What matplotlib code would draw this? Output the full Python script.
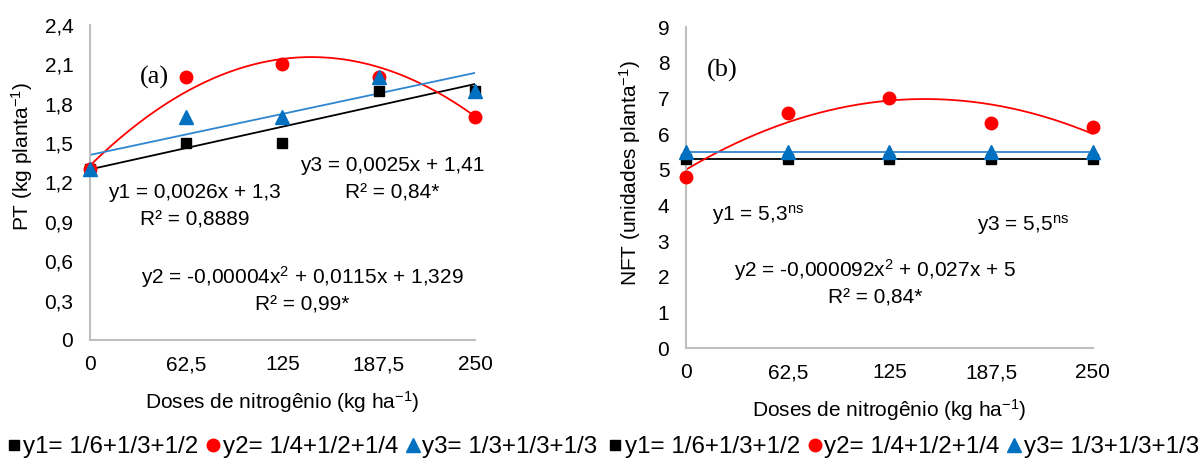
import numpy as np
import matplotlib
matplotlib.use('Agg')
import matplotlib.pyplot as plt
from matplotlib.lines import Line2D

plt.rcParams['font.family'] = ['Liberation Sans', 'DejaVu Sans']
plt.rcParams['mathtext.default'] = 'regular'

# doses (kg/ha)
doses = [0, 62.5, 125, 187.5, 250]
dose_labels = ['0', '62,5', '125', '187,5', '250']

# (a) PT, kg per plant
pt_y1 = [1.3, 1.5, 1.5, 1.9, 1.9]
pt_y2 = [1.3, 2.0, 2.1, 2.0, 1.7]
pt_y3 = [1.3, 1.7, 1.7, 2.0, 1.9]

# (b) NFT, units per plant
nft_y1 = [5.3, 5.3, 5.3, 5.3, 5.3]
nft_y2 = [4.8, 6.6, 7.0, 6.3, 6.2]
nft_y3 = [5.5, 5.5, 5.5, 5.5, 5.5]

pt_ticks = [0, 0.3, 0.6, 0.9, 1.2, 1.5, 1.8, 2.1, 2.4]
nft_ticks = list(range(0, 10))

legend_labels = ['y1= 1/6+1/3+1/2', 'y2= 1/4+1/2+1/4', 'y3= 1/3+1/3+1/3']

BLUE = '#0070C0'
LINE_BLUE = '#2E86D1'
GRAY = '#BFBFBF'
FS = 15

fig = plt.figure(figsize=(12.03, 4.61), dpi=100)
ax1 = fig.add_axes([0.0748, 0.2625, 0.3200, 0.6833])
ax2 = fig.add_axes([0.5702, 0.2451, 0.3383, 0.6963])

xs = np.linspace(0, 250, 200)


def style(ax, ticks, ylim, ylabel, label_xy):
    ax.set_xlim(0, 250)
    ax.set_ylim(*ylim)
    ax.set_xticks(doses)
    ax.set_xticklabels(dose_labels)
    ax.set_yticks(ticks)
    ax.set_yticklabels([('%g' % t).replace('.', ',') for t in ticks])
    for s in ['top', 'right']:
        ax.spines[s].set_visible(False)
    for s in ['left', 'bottom']:
        ax.spines[s].set_color(GRAY)
        ax.spines[s].set_linewidth(1.5)
    ax.tick_params(axis='x', length=0, labelsize=FS, pad=11)
    ax.tick_params(axis='y', length=0, labelsize=FS, pad=12)
    ax.set_xlabel('Doses de nitrogênio (kg ha$^{-1}$)', fontsize=FS, labelpad=11)
    ax.set_ylabel(ylabel, fontsize=FS, va='center')
    ax.yaxis.set_label_coords(*label_xy)


def markers(ax, y1, y2, y3):
    ax.plot(doses, y1, 's', color='black', ms=7, ls='none', clip_on=False, zorder=4)
    ax.plot(doses, y2, 'o', color='red', ms=9, ls='none', clip_on=False, zorder=4)
    ax.plot(doses, y3, '^', color=BLUE, ms=10, ls='none', clip_on=False, zorder=5)


# panel (a)
ax1.plot(xs, 0.0026 * xs + 1.3, color='black', lw=1.3)
ax1.plot(xs, -0.00004 * xs**2 + 0.0115 * xs + 1.329, color='red', lw=1.3)
ax1.plot(xs, 0.0025 * xs + 1.41, color=LINE_BLUE, lw=1.3)
markers(ax1, pt_y1, pt_y2, pt_y3)
style(ax1, pt_ticks, (0, 2.4), 'PT (kg planta$^{-1}$)', (-0.177, 0.584))

ax1.text(42, 2.0, '(a)', fontsize=19, family='Liberation Serif', ha='center', va='center')
ax1.text(68, 1.12, 'y1 = 0,0026x + 1,3', fontsize=FS, ha='center', va='center')
ax1.text(68, 0.914, 'R² = 0,8889', fontsize=FS, ha='center', va='center')
ax1.text(196, 1.333, 'y3 = 0,0025x + 1,41', fontsize=FS, ha='center', va='center')
ax1.text(196, 1.12, 'R² = 0,84*', fontsize=FS, ha='center', va='center')
ax1.text(138, 0.48, 'y2 = -0,00004x$^{2}$ + 0,0115x + 1,329', fontsize=FS, ha='center', va='center')
ax1.text(138, 0.267, 'R² = 0,99*', fontsize=FS, ha='center', va='center')

# panel (b)
ax2.plot(xs, np.full_like(xs, 5.3), color='black', lw=1.3)
ax2.plot(xs, -0.000092 * xs**2 + 0.027 * xs + 5, color='red', lw=1.3)
ax2.plot(xs, np.full_like(xs, 5.5), color=LINE_BLUE, lw=1.3)
markers(ax2, nft_y1, nft_y2, nft_y3)
style(ax2, nft_ticks, (0, 9), 'NFT (unidades planta$^{-1}$)', (-0.138, 0.545))

ax2.text(22, 7.79, '(b)', fontsize=19, family='Liberation Serif', ha='center', va='center')
ax2.text(44, 3.73, 'y1 = 5,3$^{ns}$', fontsize=FS, ha='center', va='center')
ax2.text(207, 3.45, 'y3 = 5,5$^{ns}$', fontsize=FS, ha='center', va='center')
ax2.text(116, 2.19, 'y2 = -0,000092x$^{2}$ + 0,027x + 5', fontsize=FS, ha='center', va='center')
ax2.text(116, 1.40, 'R² = 0,84*', fontsize=FS, ha='center', va='center')

# legends below each panel
handles = [
    Line2D([], [], marker='s', color='black', ls='none', ms=7),
    Line2D([], [], marker='o', color='red', ls='none', ms=9),
    Line2D([], [], marker='^', color=BLUE, ls='none', ms=10),
]
for xc in [0.251, 0.751]:
    fig.legend(handles, legend_labels, loc='center', bbox_to_anchor=(xc, 0.03), ncol=3,
               frameon=False, fontsize=17.4, handlelength=0.6, handletextpad=0.1,
               columnspacing=0.3, borderaxespad=0)

fig.savefig('out.png', dpi=100)
